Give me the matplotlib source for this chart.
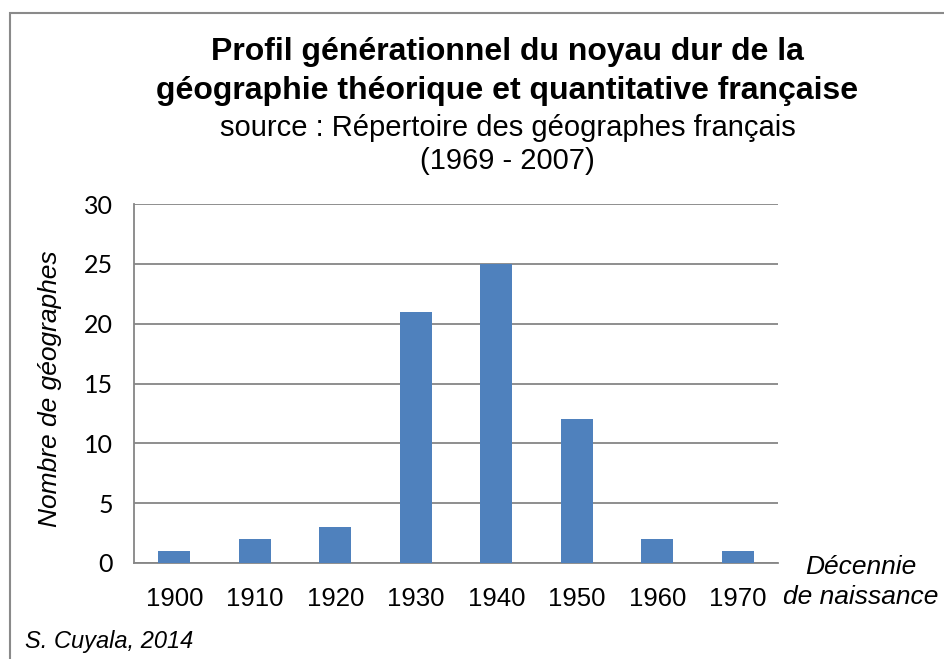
import matplotlib
matplotlib.use("Agg")
import matplotlib.pyplot as plt
from matplotlib.patches import Rectangle

decades = ["1900", "1910", "1920", "1930", "1940", "1950", "1960", "1970"]
counts = [1, 2, 3, 21, 25, 12, 2, 1]
yticks = [0, 5, 10, 15, 20, 25, 30]

BAR = "#4F81BD"
GRID = "#868686"

plt.rcParams["font.family"] = ["Liberation Sans", "DejaVu Sans"]

fig = plt.figure(figsize=(9.45, 6.59), dpi=100)
ax = fig.add_axes([0.1418, 0.1457, 0.6815, 0.5447])

x = range(len(decades))
ax.bar(x, counts, width=0.4, color=BAR, zorder=3)

ax.set_xlim(-0.5, len(decades) - 0.5)
ax.set_ylim(0, 30)
ax.set_yticks(yticks, labels=[str(v) for v in yticks],
              fontfamily=["Lato", "DejaVu Sans"], fontsize=18)
ax.set_xticks(list(x), labels=decades, fontsize=18.5)
ax.tick_params(axis="both", length=0, colors="black")
ax.tick_params(axis="x", pad=17.5)
ax.tick_params(axis="y", pad=15)
ax.grid(axis="y", color=GRID, lw=1.3, zorder=0)

for side in ("top", "right"):
    ax.spines[side].set_visible(False)
for side in ("left", "bottom"):
    ax.spines[side].set_color(GRID)
    ax.spines[side].set_linewidth(1.3)

ax.set_ylabel("Nombre de géographes", fontsize=19, style="italic")
ax.yaxis.set_label_coords(-0.112, 0.485)

fig.text(0.911, 0.117, "Décennie\nde naissance", ha="center", va="center",
         fontsize=19, style="italic", linespacing=1.3)

fig.text(0.537, 0.891, "Profil générationnel du noyau dur de la\n"
         "géographie théorique et quantitative française",
         ha="center", va="center", fontsize=23, fontweight="bold",
         linespacing=1.38)
fig.text(0.537, 0.781, "source : Répertoire des géographes français\n(1969 - 2007)",
         ha="center", va="center", fontsize=21, linespacing=1.25)

fig.text(0.026, 0.026, "S. Cuyala, 2014", ha="left", va="center",
         fontsize=17, style="italic")

# outer chart frame, running off the right and bottom edges
fig.patches.append(Rectangle((10 / 945, -0.05), 1.0, 1 - 13 / 659 + 0.05,
                             transform=fig.transFigure, fill=False,
                             edgecolor="#8a8a8a", lw=1.5))

fig.savefig("out.png", dpi=100)
